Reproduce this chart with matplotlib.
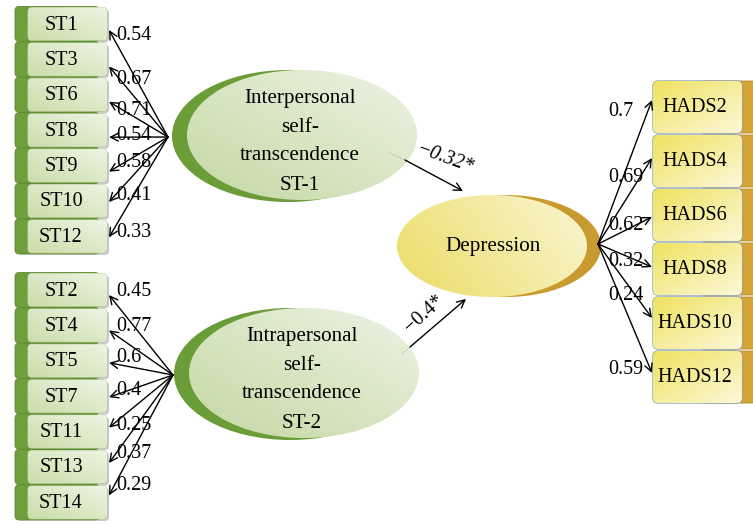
import numpy as np
import matplotlib
matplotlib.use("Agg")
from matplotlib import pyplot as plt
from matplotlib.patches import Ellipse, FancyBboxPatch
from matplotlib.colors import LinearSegmentedColormap

# indicators and standardized loadings
st1_items = ['ST1', 'ST3', 'ST6', 'ST8', 'ST9', 'ST10', 'ST12']
st1_loadings = [0.54, 0.67, 0.71, 0.54, 0.58, 0.41, 0.33]
st2_items = ['ST2', 'ST4', 'ST5', 'ST7', 'ST11', 'ST13', 'ST14']
st2_loadings = [0.45, 0.77, 0.6, 0.4, 0.25, 0.37, 0.29]
hads_items = ['HADS2', 'HADS4', 'HADS6', 'HADS8', 'HADS10', 'HADS12']
hads_loadings = [0.7, 0.69, 0.62, 0.32, 0.24, 0.59]

factor_names = ['Interpersonal\nself-\ntranscendence\nST-1',
                'Intrapersonal\nself-\ntranscendence\nST-2']
outcome_name = 'Depression'
path_labels = ['\u22120.32*', '\u22120.4*']

FONT = 'Liberation Serif'
FS = 14.5

fig = plt.figure(figsize=(7.53, 5.25), dpi=100)
ax = fig.add_axes([0, 0, 1, 1])
ax.set_xlim(0, 753)
ax.set_ylim(525, 0)
ax.axis('off')


def gradient_fill(patch, c1, c2, direction=(1, -1), z=2):
    ax.add_patch(patch)
    patch.set_zorder(z)
    ext = patch.get_extents().transformed(ax.transData.inverted())
    x0, x1 = sorted([ext.x0, ext.x1])
    y0, y1 = sorted([ext.y0, ext.y1])
    xx, yy = np.meshgrid(np.linspace(0, 1, 60), np.linspace(0, 1, 60))
    g = direction[0] * xx + direction[1] * yy
    g = (g - g.min()) / (g.max() - g.min())
    cmap = LinearSegmentedColormap.from_list('g', [c1, c2])
    im = ax.imshow(g, cmap=cmap, extent=(x0, x1, y1, y0), aspect='auto',
                   zorder=z + 0.1, interpolation='bilinear')
    im.set_clip_path(patch)


def arrow(p_from, p_to, lw=1.0):
    ax.annotate('', xy=p_to, xytext=p_from,
                arrowprops=dict(arrowstyle='->', lw=lw, color='black',
                                mutation_scale=14, shrinkA=0, shrinkB=0),
                zorder=6)


# ---- left side indicator boxes ----
def st_block(items, loadings, y_first, src, name, ell_center, tip_dy, lab_dy):
    step = 35.4
    h = 33
    for i, (lab, val) in enumerate(zip(items, loadings)):
        yc = y_first + i * step
        back = FancyBboxPatch((15, yc - h / 2 - 1), 84, h + 2,
                              boxstyle='round,pad=0,rounding_size=4',
                              fc='#6f9f3d', ec='#5b8a30', lw=0.6, zorder=1)
        ax.add_patch(back)
        ax.add_patch(FancyBboxPatch((17, yc - h / 2 + 2), 92, h,
                                    boxstyle='round,pad=0,rounding_size=4',
                                    fc='#c9c9c9', ec='none', zorder=0.5))
        front = FancyBboxPatch((28, yc - h / 2), 79, h,
                               boxstyle='round,pad=0,rounding_size=4',
                               fc='none', ec='#b9cc9c', lw=0.6)
        gradient_fill(front, '#cadda9', '#eef4e3', direction=(1, -1))
        ax.text(61, yc + 1, lab, fontsize=FS, family=FONT, ha='center',
                va='center', zorder=5)
        tip = (109, yc + tip_dy[i])
        arrow(src, tip)
        ax.text(116, yc + lab_dy[i], f'{val:g}', fontsize=FS,
                family=FONT, ha='left', va='center', zorder=7)

    # latent factor ellipse
    cx, cy = ell_center
    ax.add_patch(Ellipse((cx - 14, cy + 1), 232, 132, fc='#6a9c38',
                         ec='none', zorder=1.5))
    e = Ellipse((cx, cy), 230, 130, fc='none', ec='none')
    gradient_fill(e, '#c4d8a3', '#edf3e4', direction=(1, -1), z=2)
    lines = name.split('\n')
    for k, ln in enumerate(lines):
        ax.text(cx - 2, cy - 37 + 29 * k, ln, fontsize=FS + 0.7, family=FONT,
                ha='center', va='center', zorder=5)


st_block(st1_items, st1_loadings, 24, (168, 137), factor_names[0],
         (302, 135), [6, 7, 7, 7, 6, 1, 1], [12, 20, 16, 5, -3, -6, -4])
st_block(st2_items, st2_loadings, 290, (173, 375), factor_names[1],
         (304, 373), [5, 5, 2, 1, -4, -4, -7], [1, 1, -3, -6, -6, -14, -17])

# ---- depression ellipse ----
ax.add_patch(Ellipse((506, 246), 190, 102, fc='#c99a30', ec='none', zorder=1.5))
dep = Ellipse((492, 246), 190, 102, fc='none', ec='none')
gradient_fill(dep, '#ecdc66', '#f9f6d2', direction=(1, -0.4), z=2)
ax.text(493, 247, outcome_name, fontsize=FS + 0.7, family=FONT,
        ha='center', va='center', zorder=5)

# structural paths
arrow((405, 160), (463, 191))
ax.plot([390, 405], [153, 160], color='#aaaaaa', lw=0.8, ls=':', zorder=5)
ax.text(445, 159, path_labels[0], fontsize=FS, family=FONT, style='italic',
        rotation=-20, ha='center', va='center', zorder=7)
arrow((410, 347), (466, 299))
ax.plot([402, 410], [354, 347], color='#aaaaaa', lw=0.8, ls=':', zorder=5)
ax.text(424, 314, path_labels[1], fontsize=FS, family=FONT,
        rotation=42, ha='center', va='center', zorder=7)

# ---- right side HADS boxes ----
src = (598, 244)
tips_dy = [-7, -3, 2, -2, -5, -4]
lab_dy = [4, 17, 10, -8, -27, -8]
for i, (lab, val) in enumerate(zip(hads_items, hads_loadings)):
    yc = 107 + i * 54
    h = 52
    ax.add_patch(FancyBboxPatch((700, yc - h / 2), 60, h,
                                boxstyle='round,pad=0,rounding_size=4',
                                fc='#d4a437', ec='#b48a2a', lw=0.6, zorder=1))
    front = FancyBboxPatch((653, yc - h / 2), 89, h,
                           boxstyle='round,pad=0,rounding_size=5',
                           fc='none', ec='#8099b3', lw=0.9)
    gradient_fill(front, '#f0e260', '#fbf8d8', direction=(1, 1), z=2)
    ax.text(695, yc + 1, lab, fontsize=FS, family=FONT, ha='center',
            va='center', zorder=5)
    tip = (652, yc + tips_dy[i])
    arrow(src, tip)
    ax.text(608, yc + lab_dy[i], f'{val:g}', fontsize=FS, family=FONT,
            ha='left', va='center', zorder=7)

fig.savefig('out.png', dpi=100, facecolor='white')
